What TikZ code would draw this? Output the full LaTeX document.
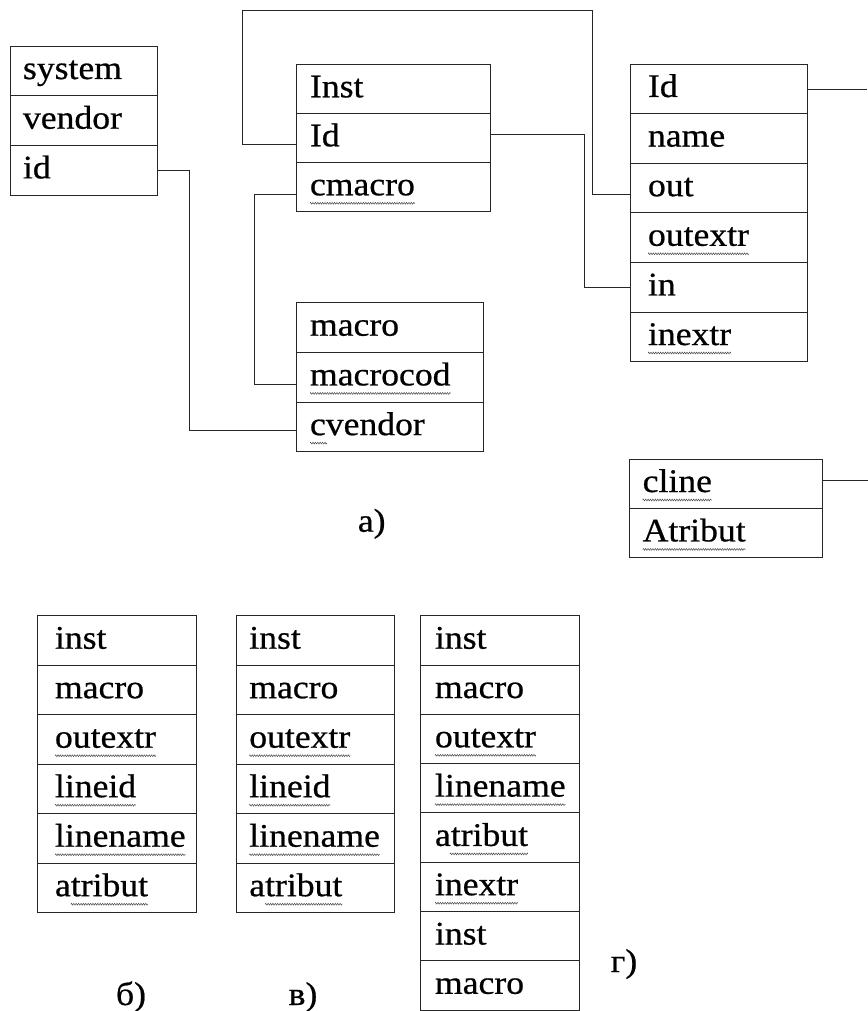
\documentclass[tikz,border=0pt]{standalone}
\usepackage{fontspec}
\setmainfont[FakeStretch=1.08,FakeBold=0.6]{Liberation Serif}
\usetikzlibrary{calc,decorations.pathmorphing}
\tikzset{
 cell/.style={draw=black!85, line width=0.9pt, anchor=north west, inner sep=0pt, outer sep=0pt},
 lbl/.style={anchor=base west, inner sep=0pt, outer sep=0pt, font=\fontsize{33}{33}\selectfont},
 captext/.style={anchor=base, inner sep=0pt, font=\fontsize{33}{33}\selectfont},
 link/.style={draw=black!85, line width=0.9pt},
 squig/.style={draw=black!70, line width=0.5pt, decorate, decoration={zigzag, amplitude=0.9pt, segment length=2.4pt}},
}
\newcommand\mktable[7]{%
 \foreach \lab [count=\i] in {#7} {
   \node[cell, minimum width=#4pt, minimum height=#5pt] (#1\i) at (#2,{#3+(\i-1)*#5}) {};
   \node[lbl] (#1t\i) at ({#2+#6},{#3+(\i-1)*#5+33}) {\lab};
 }}
\newcommand\sq[3]{\draw[squig] ($(#1.base west)!#2!(#1.base east)+(0,8)$) -- ($(#1.base west)!#3!(#1.base east)+(0,8)$);}
\begin{document}
\begin{tikzpicture}[x=1pt,y=-1pt]
\fill[white] (0,0) rectangle (867,1011);
\useasboundingbox (0,0) rectangle (867,1011);
% tables
\mktable{sys}{10}{46}{147}{49.7}{13}{system,vendor,id}
\mktable{ins}{296.7}{64.3}{194}{49}{13.3}{Inst,Id,cmacro}
\mktable{mac}{296.7}{302.7}{186.6}{49.7}{13.3}{macro,macrocod,cvendor}
\mktable{fld}{630.7}{64}{176.6}{49.6}{17.3}{Id,name,out,outextr,in,inextr}
\mktable{cln}{629.3}{459}{193.4}{49.4}{13.4}{cline,Atribut}
\mktable{tb}{37.7}{615.7}{159}{49.5}{17.3}{inst,macro,outextr,lineid,linename,atribut}
\mktable{tv}{236}{615.7}{158.7}{49.5}{13.3}{inst,macro,outextr,lineid,linename,atribut}
\mktable{tg}{420.7}{615.7}{158.6}{49.3}{14.3}{inst,macro,outextr,linename,atribut,inextr,inst,macro}
% squiggles
\sq{inst3}{0}{1}
\sq{mact2}{0}{1}
\sq{mact3}{0}{0.15}
\sq{fldt4}{0}{1}
\sq{fldt6}{0}{1}
\sq{clnt1}{0}{1}
\sq{clnt2}{0}{1}
\sq{tbt3}{0}{1}
\sq{tbt4}{0}{1}
\sq{tbt5}{0}{1}
\sq{tbt6}{0.17}{1}
\sq{tvt3}{0}{1}
\sq{tvt4}{0}{1}
\sq{tvt5}{0}{1}
\sq{tvt6}{0.17}{1}
\sq{tgt3}{0}{1}
\sq{tgt4}{0}{1}
\sq{tgt5}{0.16}{1}
\sq{tgt6}{0}{1}
% connectors
\coordinate (lpA) at (242,10.7);
\coordinate (lpB) at (592.7,10.7);
\draw[link] (sys3.east) -- ++(32,0) |- ([yshift=-3.7pt]mac3.west);
\draw[link] ([yshift=-8pt]ins3.west) -- ++(-42.7,0) |- ([yshift=-6.8pt]mac2.west);
\draw[link] ([yshift=-7pt]ins2.west) -| (lpA) -- (lpB) |- ([yshift=-6pt]fld3.west);
\draw[link] ([yshift=3pt]ins2.east) -- ++(93.3,0) |- (fld5.west);
\draw[link] ([yshift=-1pt]fld1.east) -- ++(60,0);
\draw[link] ([yshift=3.7pt]cln1.east) -- ++(45,0);
% captions
\node[captext] (capa) at (371.7,531.7) {а)};
\node[captext] (capb) at (131,1005) {б)};
\node[captext] (capv) at (303,1005) {в)};
\node[captext] (capg) at (624,972) {г)};
\end{tikzpicture}
\end{document}
